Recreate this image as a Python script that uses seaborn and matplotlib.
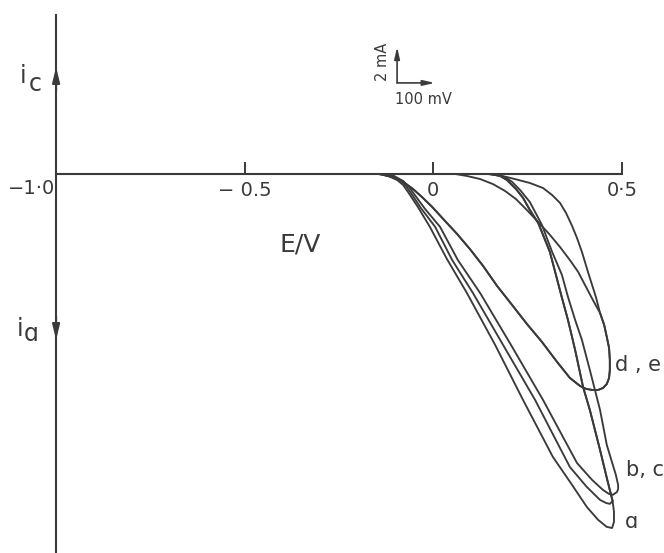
import numpy as np
import pandas as pd
import matplotlib
matplotlib.use("Agg")
import matplotlib.pyplot as plt
import seaborn as sns

# ---- cyclic voltammograms: potential E (V), current i (mA, anodic < 0) ----
# forward sweeps of curves a, b, c
a_fwd_E = [-0.147, -0.120, -0.096, -0.080, -0.067, -0.041, -0.009, 0.036, 0.089,
           0.164, 0.238, 0.317, 0.368, 0.407, 0.437, 0.460, 0.474, 0.479, 0.479, 0.476]
a_fwd_i = [0.00, -0.11, -0.33, -0.61, -1.00, -1.83, -2.94, -4.72, -6.61,
           -9.50, -12.56, -15.72, -17.28, -18.50, -19.22, -19.61, -19.67, -19.33, -18.78, -18.28]

b_fwd_E = [-0.139, -0.112, -0.088, -0.072, -0.059, -0.033, 0.005, 0.050, 0.105,
           0.185, 0.270, 0.362, 0.407, 0.442, 0.458, 0.468, 0.476]
b_fwd_i = [0.00, -0.11, -0.33, -0.67, -1.06, -1.89, -2.94, -4.78, -6.61,
           -9.50, -12.56, -16.28, -17.39, -18.11, -18.28, -18.33, -18.17]

c_fwd_E = [-0.131, -0.104, -0.080, -0.064, -0.051, -0.022, 0.018, 0.065, 0.124,
           0.206, 0.291, 0.381, 0.421, 0.450, 0.466, 0.476, 0.487, 0.490]
c_fwd_i = [0.00, -0.11, -0.39, -0.72, -1.11, -1.94, -2.94, -4.78, -6.61,
           -9.50, -12.56, -16.06, -17.00, -17.56, -17.78, -17.83, -17.67, -17.50]

# return sweeps (a and b share the inner one)
ab_rev_E = [0.474, 0.468, 0.460, 0.442, 0.415, 0.397, 0.376, 0.357, 0.339, 0.323,
            0.309, 0.291, 0.278, 0.256, 0.238, 0.219, 0.195, 0.177, 0.150]
ab_rev_i = [-18.06, -17.56, -16.89, -15.33, -13.11, -11.83, -9.78, -8.11, -6.72, -5.44,
            -4.33, -3.39, -2.72, -2.00, -1.33, -0.83, -0.33, -0.11, 0.00]

c_rev_E = [0.490, 0.484, 0.476, 0.460, 0.442, 0.415, 0.394, 0.376, 0.357, 0.341,
           0.315, 0.288, 0.256, 0.230, 0.209, 0.190, 0.164]
c_rev_i = [-17.28, -16.72, -16.17, -15.06, -13.11, -10.89, -9.22, -8.11, -6.83, -5.61,
           -4.33, -2.83, -1.56, -0.89, -0.44, -0.17, 0.00]

# curves d, e: common forward sweep and turning region
de_fwd_E = [-0.141, -0.109, -0.080, -0.054, -0.030, -0.003, 0.031, 0.063, 0.097,
            0.132, 0.169, 0.209, 0.248, 0.288, 0.328, 0.362, 0.389, 0.405, 0.421,
            0.437, 0.450, 0.460, 0.466, 0.468, 0.468, 0.466, 0.460, 0.453, 0.442]
de_fwd_i = [0.00, -0.17, -0.44, -0.83, -1.28, -1.83, -2.61, -3.33, -4.17,
            -5.11, -6.22, -7.28, -8.33, -9.33, -10.44, -11.33, -11.78, -11.94, -12.00,
            -12.00, -11.89, -11.67, -11.33, -10.89, -10.33, -9.67, -9.06, -8.39, -7.72]

d_rev_E = [0.442, 0.423, 0.405, 0.384, 0.362, 0.336, 0.307, 0.278, 0.248, 0.219,
           0.190, 0.158, 0.124, 0.089, 0.058]
d_rev_i = [-7.72, -7.00, -6.28, -5.44, -4.78, -4.06, -3.33, -2.67, -2.00, -1.39,
           -0.94, -0.56, -0.28, -0.11, 0.00]

e_rev_E = [0.442, 0.431, 0.421, 0.410, 0.394, 0.381, 0.368, 0.352, 0.336, 0.315,
           0.291, 0.256, 0.225, 0.195, 0.169, 0.142]
e_rev_i = [-7.72, -6.83, -6.17, -5.44, -4.33, -3.56, -2.89, -2.17, -1.61, -1.17,
           -0.78, -0.50, -0.33, -0.17, -0.06, 0.00]

x_ticks = [-0.5, 0.0, 0.5]
x_tick_labels = ["\u2212 0.5", "0", "0\u00b75"]
curve_labels = ["d , e", "b, c", "\u0251"]

# ---- assemble one path per voltammogram ----
traces = {
    "a": (a_fwd_E + ab_rev_E, a_fwd_i + ab_rev_i),
    "b": (b_fwd_E + ab_rev_E, b_fwd_i + ab_rev_i),
    "c": (c_fwd_E + c_rev_E, c_fwd_i + c_rev_i),
    "d": (de_fwd_E + d_rev_E, de_fwd_i + d_rev_i),
    "e": (de_fwd_E + e_rev_E, de_fwd_i + e_rev_i),
}
frames = []
for name, (E, i) in traces.items():
    frames.append(pd.DataFrame({"E": E, "i": i, "trace": name,
                                "order": np.arange(len(E))}))
df = pd.concat(frames, ignore_index=True)

sns.set_style("white")
plt.rcParams["font.family"] = ["DejaVu Sans"]

ink = "#3a3a3a"
W, H = 664, 553
fig = plt.figure(figsize=(W / 100, H / 100), dpi=100)
ax = fig.add_axes([0, 0, 1, 1])
fig.patch.set_facecolor("white")


def fp(x, y):
    """figure-fraction position from pixel position (origin top-left)"""
    return x / W, 1 - y / H


sns.lineplot(data=df, x="E", y="i", units="trace", estimator=None, sort=False,
             color=ink, lw=1.35, ax=ax, legend=False)
for ln in ax.lines:
    ln.set_solid_joinstyle("round")
    ln.set_solid_capstyle("round")

ax.set_xlim(-1.1487, 0.6116)
ax.set_ylim(-21.06, 9.667)
ax.set_xlabel("")
ax.set_ylabel("")

# axes drawn as crossing lines: current axis at E = -1.0, potential axis at i = 0
for side in ("top", "right"):
    ax.spines[side].set_visible(False)
ax.spines["left"].set_position(("data", -1.0))
ax.spines["bottom"].set_position(("data", 0.0))
ax.spines["left"].set_bounds(-21.06, 8.83)
ax.spines["bottom"].set_bounds(-1.0, 0.5)
for side in ("left", "bottom"):
    ax.spines[side].set_color(ink)
    ax.spines[side].set_linewidth(1.5)

ax.set_yticks([])
ax.set_xticks(x_ticks)
ax.set_xticklabels(x_tick_labels)
ax.tick_params(axis="x", bottom=True, direction="in", length=9, width=1.4,
               colors=ink, labelsize=14, pad=5)

fig.text(*fp(32, 188), "\u22121\u00b70", fontsize=14, color=ink,
         ha="center", va="center")

# direction arrows on the current axis
head = "-|>,head_length=0.9,head_width=0.22"
ax.annotate("", xy=(-1.0, 5.94), xytext=(-1.0, 4.6),
            arrowprops=dict(arrowstyle=head, color=ink, lw=1.5,
                            shrinkA=0, shrinkB=0))
ax.annotate("", xy=(-1.0, -9.22), xytext=(-1.0, -7.9),
            arrowprops=dict(arrowstyle=head, color=ink, lw=1.5,
                            shrinkA=0, shrinkB=0))

fig.text(*fp(23, 76), "i", fontsize=17, color=ink, ha="center", va="center")
fig.text(*fp(35, 84), "c", fontsize=17, color=ink, ha="center", va="center")
fig.text(*fp(20, 329), "i", fontsize=17, color=ink, ha="center", va="center")
fig.text(*fp(31, 334), "\u0251", fontsize=17, color=ink, ha="center", va="center")

fig.text(*fp(300, 244), "E/V", fontsize=18, color=ink, ha="center", va="center")

# scale bar: 2 mA vertical, 100 mV horizontal
sb_E, sb_i = -0.096, 5.06
small = "-|>,head_length=0.7,head_width=0.16"
ax.annotate("", xy=(sb_E, sb_i + 2.0), xytext=(sb_E, sb_i),
            arrowprops=dict(arrowstyle=small, color=ink, lw=1.2,
                            shrinkA=0, shrinkB=0))
ax.annotate("", xy=(sb_E + 0.1, sb_i), xytext=(sb_E, sb_i),
            arrowprops=dict(arrowstyle=small, color=ink, lw=1.2,
                            shrinkA=0, shrinkB=0))
fig.text(*fp(382, 62), "2 mA", fontsize=10.5, color=ink, rotation=90,
         ha="center", va="center")
fig.text(*fp(423, 99), "100 mV", fontsize=10.5, color=ink,
         ha="center", va="center")

# curve labels
fig.text(*fp(638, 365), curve_labels[0], fontsize=15, color=ink,
         ha="center", va="center")
fig.text(*fp(645, 470), curve_labels[1], fontsize=15, color=ink,
         ha="center", va="center")
fig.text(*fp(631, 522), curve_labels[2], fontsize=15, color=ink,
         ha="center", va="center")

fig.savefig("out.png", dpi=100, facecolor="white")
